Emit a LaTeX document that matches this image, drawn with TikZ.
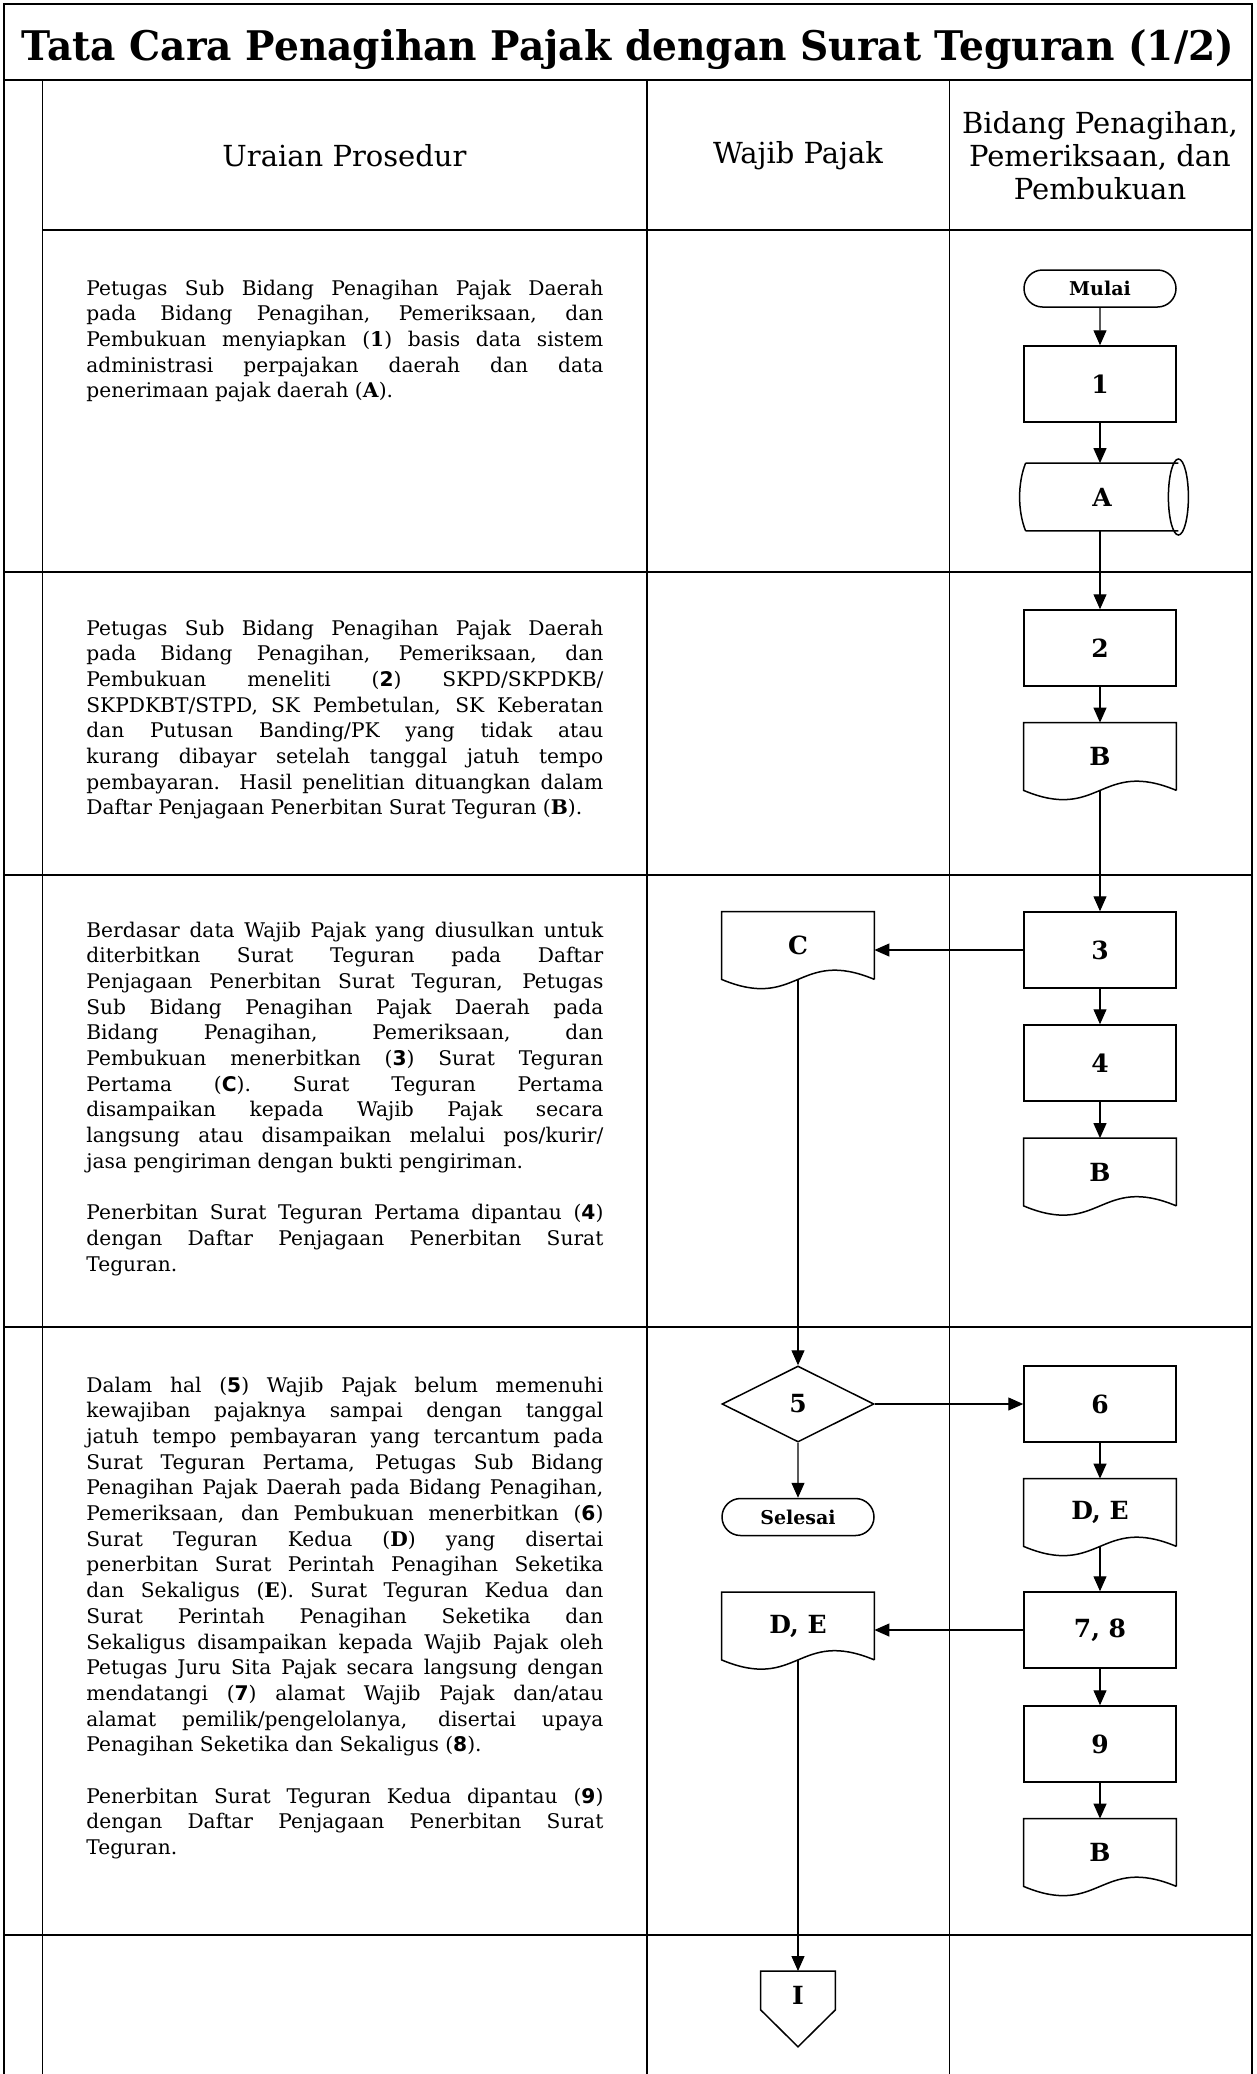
\documentclass[tikz,border=0pt]{standalone}
\usepackage{fontspec}
\setmainfont{DejaVu Serif}
\newfontfamily\numfont{DejaVu Sans}
\usepackage{graphicx}
\usetikzlibrary{arrows.meta,shapes.geometric,shapes.misc}

\newcommand{\snum}[1]{{\numfont\bfseries #1}}

\tikzset{
  tbl/.style={line width=0.9pt},
  shp/.style={line width=0.75pt},
  shapefont/.style={font=\bfseries\fontsize{12.5}{14}\selectfont},
  procbox/.style={shp, draw, rectangle, minimum width=76pt, minimum height=38pt, inner sep=0pt, shapefont},
  docbox/.style={rectangle, minimum width=76pt, minimum height=33.5pt, inner sep=0pt, shapefont},
  termbox/.style={shp, draw, rounded rectangle, minimum width=76pt, minimum height=18.5pt, inner sep=0pt, font=\bfseries\fontsize{9.5}{11}\selectfont},
  decbox/.style={shp, draw, diamond, aspect=2, minimum width=76pt, minimum height=38pt, inner sep=0pt, shapefont},
  flow/.style={line width=0.6pt, -{Triangle[length=7.5pt,width=6.5pt]}},
  prosedur/.style={anchor=base west, inner sep=0pt, text width=258.5pt, align=justify, font=\fontsize{10.1}{12.85}\selectfont},
  kolom/.style={font=\fontsize{14.5}{16.5}\selectfont, align=center, inner sep=0pt}
}

\begin{document}
\begin{tikzpicture}[x=0.5pt, y=-0.5pt]
  \useasboundingbox (0,0) rectangle (1257,2074);

  % table
  \draw[tbl] (4,2074) -- (4,4) -- (1252,4) -- (1252,2074);
  \draw[tbl] (4,80) -- (1252,80);
  \foreach \x in {42.5,647,949.5}
    \draw[tbl] (\x,80) -- (\x,2074);
  \draw[tbl] (42.5,230) -- (1252,230);
  \foreach \y in {572,875,1327,1935}
    \draw[tbl] (4,\y) -- (1252,\y);

  % title and headers
  \node[anchor=base, inner sep=0pt] (judul) at (628,60)
    {\resizebox{606pt}{15.5pt}{\bfseries Tata Cara Penagihan Pajak dengan Surat Teguran (1/2)}};
  \node[kolom] (hUraian) at (344.5,156) {Uraian Prosedur};
  \node[kolom] (hWajib) at (798,156) {Wajib Pajak};
  \node[kolom] (hBidang) at (1100,156) {Bidang Penagihan,\\Pemeriksaan, dan\\Pembukuan};

  % uraian prosedur
  \node[prosedur] (u1) at (86,295) {Petugas Sub Bidang Penagihan Pajak Daerah\linebreak
    pada Bidang Penagihan, Pemeriksaan, dan\linebreak
    Pembukuan menyiapkan (\textbf{1}) basis data sistem\linebreak
    administrasi perpajakan daerah dan data\linebreak
    penerimaan pajak daerah (\textbf{A}).};
  \node[prosedur] (u2) at (86,635) {Petugas Sub Bidang Penagihan Pajak Daerah\linebreak
    pada Bidang Penagihan, Pemeriksaan, dan\linebreak
    Pembukuan meneliti (\snum{2}) SKPD/SKPDKB/\linebreak
    SKPDKBT/STPD, SK Pembetulan, SK Keberatan\linebreak
    dan Putusan Banding/PK yang tidak atau\linebreak
    kurang dibayar setelah tanggal jatuh tempo\linebreak
    pembayaran. Hasil penelitian dituangkan dalam\linebreak
    Daftar Penjagaan Penerbitan Surat Teguran (\textbf{B}).};
  \node[prosedur] (u3) at (86,937) {Berdasar data Wajib Pajak yang diusulkan untuk\linebreak
    diterbitkan Surat Teguran pada Daftar\linebreak
    Penjagaan Penerbitan Surat Teguran, Petugas\linebreak
    Sub Bidang Penagihan Pajak Daerah pada\linebreak
    Bidang Penagihan, Pemeriksaan, dan\linebreak
    Pembukuan menerbitkan (\snum{3}) Surat Teguran\linebreak
    Pertama (\snum{C}). Surat Teguran Pertama\linebreak
    disampaikan kepada Wajib Pajak secara\linebreak
    langsung atau disampaikan melalui pos/kurir/\linebreak
    jasa pengiriman dengan bukti pengiriman.\par\vspace{\baselineskip}
    Penerbitan Surat Teguran Pertama dipantau (\snum{4})\linebreak
    dengan Daftar Penjagaan Penerbitan Surat\linebreak
    Teguran.};
  \node[prosedur] (u4) at (86,1392) {Dalam hal (\snum{5}) Wajib Pajak belum memenuhi\linebreak
    kewajiban pajaknya sampai dengan tanggal\linebreak
    jatuh tempo pembayaran yang tercantum pada\linebreak
    Surat Teguran Pertama, Petugas Sub Bidang\linebreak
    Penagihan Pajak Daerah pada Bidang Penagihan,\linebreak
    Pemeriksaan, dan Pembukuan menerbitkan (\snum{6})\linebreak
    Surat Teguran Kedua (\textbf{D}) yang disertai\linebreak
    penerbitan Surat Perintah Penagihan Seketika\linebreak
    dan Sekaligus (\textbf{E}). Surat Teguran Kedua dan\linebreak
    Surat Perintah Penagihan Seketika dan\linebreak
    Sekaligus disampaikan kepada Wajib Pajak oleh\linebreak
    Petugas Juru Sita Pajak secara langsung dengan\linebreak
    mendatangi (\snum{7}) alamat Wajib Pajak dan/atau\linebreak
    alamat pemilik/pengelolanya, disertai upaya\linebreak
    Penagihan Seketika dan Sekaligus (\snum{8}).\par\vspace{\baselineskip}
    Penerbitan Surat Teguran Kedua dipantau (\snum{9})\linebreak
    dengan Daftar Penjagaan Penerbitan Surat\linebreak
    Teguran.};

  % flow shapes
  \node[termbox] (mulai) at (1100,288.5) {Mulai};
  \foreach \n/\t/\y in {b1/1/384, b2/2/648, b3/3/950, b4/4/1063, b6/6/1404, b78/{7, 8}/1630, b9/9/1744}
    \node[procbox] (\n) at (1100,\y) {\t};
  \node[docbox] (dA) at (1102,497) {A};
  \draw[shp] (dA.north west) -- (dA.north east) (dA.south west) -- (dA.south east)
    (dA.north west) .. controls ([shift={(-4pt,-10pt)}]dA.north west) and ([shift={(-4pt,10pt)}]dA.south west) .. (dA.south west)
    (dA.east) ellipse (5pt and 19pt);
  \foreach \n/\t/\x/\y in {dB1/B/1100/756.5, dB2/B/1100/1172, dB3/B/1100/1852.5, dC/C/798/945.5, dDE1/{D, E}/1100/1512.5, dDE2/{D, E}/798/1626}
    \node[docbox] (\n) at (\x,\y) {\t};
  \foreach \d in {dB1,dB2,dB3,dC,dDE1,dDE2}
    \draw[shp] (\d.south east) -- (\d.north east) -- (\d.north west) -- (\d.south west)
      .. controls ([yshift=-16pt]\d.south) and ([yshift=16pt]\d.south) .. (\d.south east);
  \node[decbox] (d5) at (798,1404) {5};
  \node[termbox] (selesai) at (798,1517) {Selesai};
  \node[shapefont, minimum width=37pt, minimum height=24pt, inner sep=0pt, anchor=north] (dI) at (798,1971) {I};
  \draw[shp] (dI.north west) -- (dI.north east) -- ([yshift=5pt]dI.south east)
    -- ([yshift=-13.5pt]dI.south) -- ([yshift=5pt]dI.south west) -- cycle;

  % connectors
  \draw[flow] (mulai) -- (b1);
  \draw[flow] (b1.south) -- (b1.south |- dA.north);
  \draw[flow] (b2.north |- dA.south) -- (b2);
  \draw[flow] (b2) -- (dB1);
  \draw[flow] (dB1.south) -- (b3);
  \draw[flow] (b3.west) -- (b3.west -| dC.east);
  \draw[flow] (b3) -- (b4);
  \draw[flow] (b4) -- (dB2);
  \draw[flow] (dC.south) -- (d5);
  \draw[flow] (d5) -- (b6);
  \draw[flow] (d5) -- (selesai);
  \draw[flow] (b6) -- (dDE1);
  \draw[flow] (dDE1.south) -- (b78);
  \draw[flow] (b78.west) -- (b78.west -| dDE2.east);
  \draw[flow] (b78) -- (b9);
  \draw[flow] (b9) -- (dB3);
  \draw[flow] (dDE2.south) -- (dI);
\end{tikzpicture}
\end{document}
